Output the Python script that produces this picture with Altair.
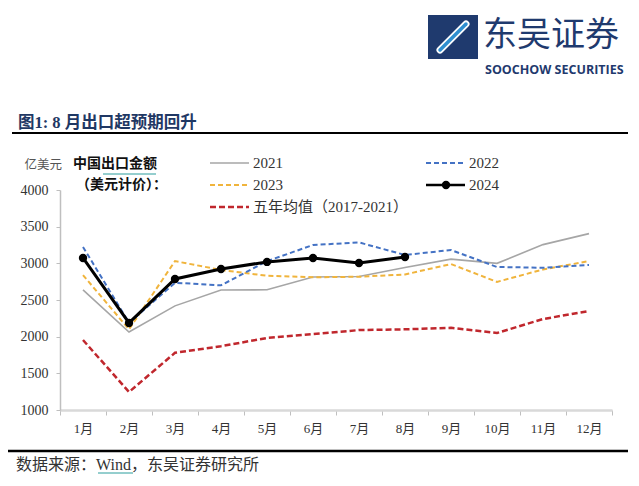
import altair as alt
import pandas as pd

months = ["1月", "2月", "3月", "4月", "5月", "6月", "7月", "8月", "9月", "10月", "11月", "12月"]
s2021 = [2637, 2064, 2420, 2637, 2639, 2814, 2820, 2943, 3057, 3000, 3255, 3405]
s2022 = [3224, 2190, 2735, 2700, 3030, 3250, 3285, 3114, 3182, 2950, 2940, 2978]
s2023 = [2840, 2100, 3030, 2910, 2830, 2810, 2817, 2848, 2990, 2747, 2916, 3031]
s2024 = [3073, 2187, 2787, 2923, 3019, 3073, 3005, 3087]
s5yr = [1955, 1245, 1780, 1870, 1982, 2035, 2090, 2100, 2120, 2050, 2240, 2350]
yticks = [1000, 1500, 2000, 2500, 3000, 3500, 4000]

names = ["2021", "2022", "2023", "2024", "五年均值（2017-2021）"]
series = [s2021, s2022, s2023, s2024, s5yr]
rows = []
for n, s in zip(names, series):
    for m, v in zip(months, s):
        rows.append({"series": n, "month": m, "value": v})
df = pd.DataFrame(rows)

SERIF = "Liberation Serif, Noto Sans CJK SC"
styles = {
    "2021": dict(color="#a6a6a6", strokeWidth=1.6),
    "2022": dict(color="#4472c4", strokeWidth=2, strokeDash=[5, 3]),
    "2023": dict(color="#f0b43c", strokeWidth=2, strokeDash=[5, 3]),
    "2024": dict(color="#000000", strokeWidth=3),
    "五年均值（2017-2021）": dict(color="#c0272d", strokeWidth=2.5, strokeDash=[6, 3]),
}

X = alt.X("month:O", sort=months, bandPosition=0.5,
          scale=alt.Scale(type="band", paddingInner=0, paddingOuter=0),
          axis=alt.Axis(title=None, labelAngle=0, tickBand="extent", domainColor="#d9d9d9",
                        domainWidth=2.5, tickColor="#bfbfbf", tickSize=5, labelPadding=7,
                        labelFont=SERIF, labelFontSize=13, labelColor="#333333"))
Y = alt.Y("value:Q", scale=alt.Scale(domain=[1000, 4000], nice=False),
          axis=alt.Axis(title=None, values=yticks, format="d", grid=False, domainColor="#bfbfbf",
                        domainWidth=1.5, tickColor="#bfbfbf", tickSize=4, labelPadding=8,
                        labelFont=SERIF, labelFontSize=14, labelColor="#333333"))

base = alt.Chart(df)
layers = []
order = ["2021", "五年均值（2017-2021）", "2023", "2022", "2024"]
for n in order:
    layers.append(base.transform_filter(alt.datum.series == n).mark_line(**styles[n]).encode(x=X, y=Y))
layers.append(base.transform_filter(alt.datum.series == "2024").mark_point(
    filled=True, color="#000000", size=70, opacity=1).encode(x=X, y=Y))

one = alt.Data(values=[{}])


def txt(s, x, y, size=14, color="#333333", weight="normal", font=SERIF, align="left"):
    return alt.Chart(one).mark_text(text=s, align=align, baseline="middle", fontSize=size,
                                    color=color, fontWeight=weight, font=font).encode(
        x=alt.value(x), y=alt.value(y))


def hline(x1, x2, y, color, width, dash=None):
    kw = dict(color=color, strokeWidth=width)
    if dash:
        kw["strokeDash"] = dash
    return alt.Chart(one).mark_rule(**kw).encode(x=alt.value(x1), x2=alt.value(x2), y=alt.value(y))


# legend
leg = [("2021", 150, -27), ("2022", 366, -27), ("2023", 150, -5), ("2024", 366, -5),
       ("五年均值（2017-2021）", 150, 17)]
for n, lx, ly in leg:
    st = styles[n]
    layers.append(hline(lx, lx + 39, ly, st["color"], min(st["strokeWidth"], 2.5), st.get("strokeDash")))
    if n == "2024":
        layers.append(alt.Chart(one).mark_point(filled=True, color="#000000", size=70, opacity=1).encode(
            x=alt.value(lx + 20), y=alt.value(ly)))
    layers.append(txt(n, lx + 43, ly, size=15))

# annotations
layers += [
    txt("亿美元", 2, -25, size=12.5, color="#555555", align="right"),
    txt("中国出口金额", 13, -26, size=14, color="#111111", weight="bold"),
    txt("（美元计价）：", 16, -5, size=14, color="#111111", weight="bold"),
    hline(43, 96, -16, "#2a9d9d", 1),
    txt("图1: 8 月出口超预期回升", -42, -67, size=16.5, color="#1f3864", weight="bold"),
    hline(-48, 568, -57, "#000000", 2),
    hline(-54, 568, 261, "#000000", 2.5),
    txt("数据来源：Wind，东吴证券研究所", -44, 275, size=16, color="#333333"),
    hline(38, 73, 283, "#2a9d9d", 1),
    alt.Chart(one).mark_rect(color="#1f3a6e").encode(
        x=alt.value(368), x2=alt.value(418), y=alt.value(-175), y2=alt.value(-131)),
    alt.Chart(one).mark_rule(color="#ffffff", strokeWidth=7, strokeCap="round").encode(
        x=alt.value(380), x2=alt.value(406), y=alt.value(-140), y2=alt.value(-166)),
    alt.Chart(one).mark_rule(color="#2f8fd0", strokeWidth=3.5, strokeCap="round").encode(
        x=alt.value(380), x2=alt.value(406), y=alt.value(-140), y2=alt.value(-166)),
    txt("东吴证券", 423, -154, size=34, color="#1f3a6e", font="Noto Sans CJK SC"),
    txt("SOOCHOW SECURITIES", 425, -120, size=12.5, color="#1f3a6e", weight="bold", font="Open Sans"),
]

chart = alt.layer(*layers).properties(
    width=552, height=220,
    autosize=alt.AutoSizeParams(type="none"),
    padding={"left": 52, "top": 182, "right": 19, "bottom": 68},
).configure_view(stroke=None)

chart.save("out.html", embed_options={"renderer": "svg", "actions": False})
